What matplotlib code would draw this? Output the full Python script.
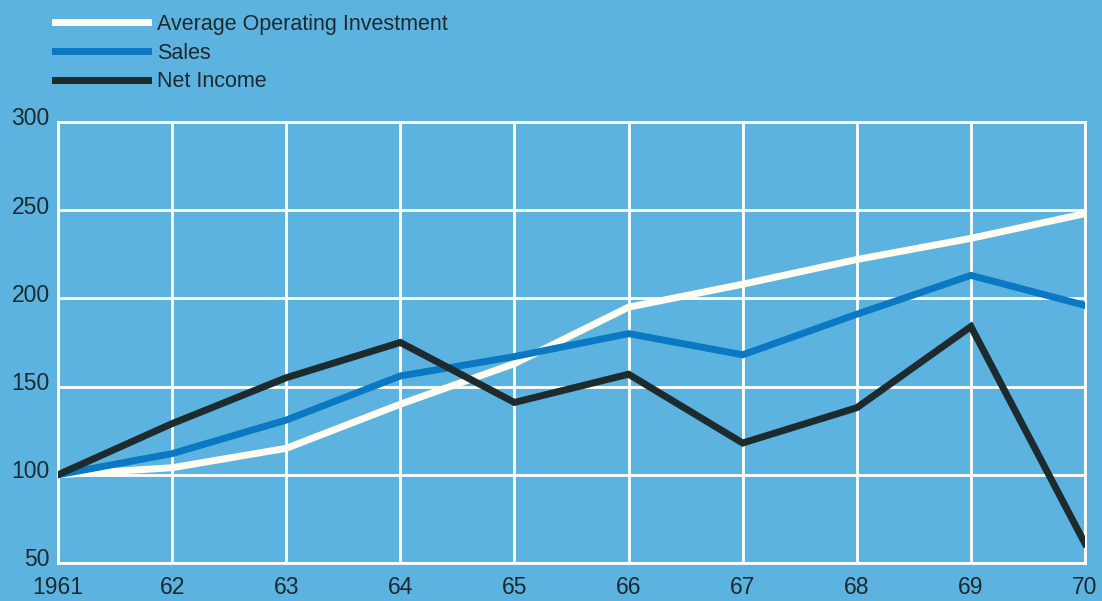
import matplotlib
matplotlib.use("Agg")
import matplotlib.pyplot as plt
from matplotlib.transforms import ScaledTranslation

years = [1961, 1962, 1963, 1964, 1965, 1966, 1967, 1968, 1969, 1970]
year_labels = ["1961", "62", "63", "64", "65", "66", "67", "68", "69", "70"]
avg_investment = [100, 104, 115, 140, 163, 195, 208, 222, 234, 248]
sales = [100, 112, 131, 156, 167, 180, 168, 191, 213, 196]
net_income = [100, 129, 155, 175, 141, 157, 118, 138, 184, 61]
y_ticks = [50, 100, 150, 200, 250, 300]

bg = "#5db3df"
text_col = "#1c2a30"
plt.rcParams["font.family"] = ["Liberation Sans", "DejaVu Sans"]

fig = plt.figure(figsize=(11.02, 6.01), dpi=100, facecolor=bg)
ax = fig.add_axes([0.0526, 0.0632, 0.932, 0.734])
ax.set_facecolor(bg)

ax.plot(years, avg_investment, color="#fffdf2", lw=5, label="Average Operating Investment",
        solid_joinstyle="miter", zorder=3)
ax.plot(years, sales, color="#0a78c2", lw=5, label="Sales", solid_joinstyle="miter", zorder=4)
ax.plot(years, net_income, color="#1d2a2e", lw=5, label="Net Income", solid_joinstyle="miter", zorder=5)

ax.set_xlim(1961, 1970)
ax.set_ylim(50, 300)
ax.set_xticks(years)
ax.set_xticklabels(year_labels)
ax.set_yticks(y_ticks)
ax.grid(True, color="white", lw=2, zorder=1)
ax.set_axisbelow(True)
for s in ax.spines.values():
    s.set_color("white")
    s.set_linewidth(2)
ax.tick_params(length=0, labelsize=16.5, labelcolor=text_col)
ax.tick_params(axis="x", pad=9)
ax.tick_params(axis="y", pad=6)

shift = ScaledTranslation(0, 4 / 72, fig.dpi_scale_trans)
for lbl in ax.get_yticklabels():
    lbl.set_transform(lbl.get_transform() + shift)

leg = ax.legend(loc="upper left", bbox_to_anchor=(55 / 1102, 1 - 14 / 601),
                bbox_transform=fig.transFigure, frameon=False, fontsize=15.5,
                handlelength=4.3, handletextpad=0.45, labelspacing=0.35,
                borderpad=0, borderaxespad=0)
for t in leg.get_texts():
    t.set_color(text_col)

fig.savefig("out.png", dpi=100, facecolor=bg)
